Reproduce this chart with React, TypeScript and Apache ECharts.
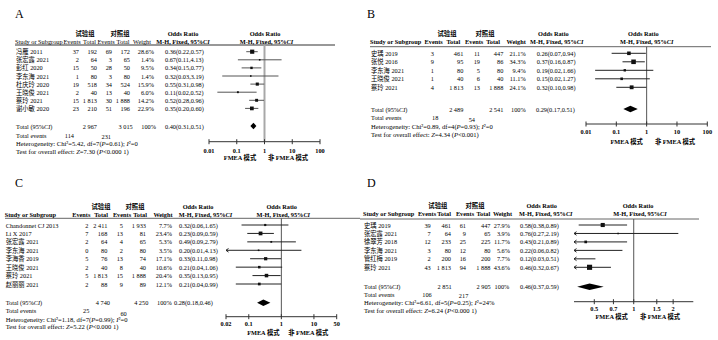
import React, { useEffect, useRef } from "react";
import * as echarts from "echarts";

// ---------------- Panel A data ----------------
const studiesA = ["冯雁 2011", "张宏露 2021", "彭红 2020", "李东海 2021", "杜庆玲 2020", "王晓俊 2021", "蔡玲 2021", "谢小敏 2020"];
const expEventsA = [37, 2, 15, 1, 19, 2, 15, 23];
const expTotalA = [192, 64, 50, 80, 518, 40, 1813, 210];
const ctlEventsA = [69, 3, 28, 3, 34, 13, 30, 51];
const ctlTotalA = [172, 65, 50, 80, 524, 40, 1888, 196];
const weightA = [28.6, 1.4, 9.5, 1.4, 15.9, 6.0, 14.2, 22.9];
const orA = [0.36, 0.67, 0.34, 0.32, 0.55, 0.11, 0.52, 0.35];
const lowA = [0.22, 0.11, 0.15, 0.03, 0.31, 0.02, 0.28, 0.20];
const highA = [0.57, 4.13, 0.77, 3.19, 0.98, 0.52, 0.96, 0.60];
const totalNA = [2967, 3015];
const totalEventsA = [114, 231];
const totalOrA = [0.40, 0.31, 0.51];
const hetA = ["5.42", "7", "0.61", "0"];
const testA = ["7.30", "<0.000 1"];
const ticksA = [0.01, 0.1, 1, 10, 100];
const tickLabelsA = ["0.01", "0.1", "1", "10", "100"];

// ---------------- Panel B data ----------------
const studiesB = ["史瑀 2019", "张悦 2016", "李东海 2021", "王晓俊 2021", "蔡玲 2021"];
const expEventsB = [3, 9, 1, 1, 4];
const expTotalB = [461, 95, 80, 40, 1813];
const ctlEventsB = [11, 19, 5, 6, 13];
const ctlTotalB = [447, 86, 80, 40, 1888];
const weightB = [21.1, 34.3, 9.4, 11.1, 24.1];
const orB = [0.26, 0.37, 0.19, 0.15, 0.32];
const lowB = [0.07, 0.16, 0.02, 0.02, 0.10];
const highB = [0.94, 0.87, 1.66, 1.27, 0.98];
const totalNB = [2489, 2541];
const totalEventsB = [18, 54];
const totalOrB = [0.29, 0.17, 0.51];
const hetB = ["0.89", "4", "0.93", "0"];
const testB = ["4.34", "<0.001"];
const ticksB = [0.01, 0.1, 1, 10, 100];
const tickLabelsB = ["0.01", "0.1", "1", "10", "100"];

// ---------------- Panel C data ----------------
const studiesC = ["Chandonnet CJ 2013", "Li X 2017", "张宏露 2021", "李东海 2021", "李海香 2019", "王晓俊 2021", "蔡玲 2021", "赵丽丽 2021"];
const expEventsC = [2, 7, 2, 0, 5, 2, 5, 2];
const expTotalC = [2411, 168, 64, 80, 76, 40, 1813, 88];
const ctlEventsC = [5, 13, 4, 2, 13, 8, 15, 9];
const ctlTotalC = [1933, 81, 65, 80, 74, 40, 1888, 89];
const weightC = [7.7, 23.4, 5.3, 3.5, 17.1, 10.6, 20.4, 12.1];
const orC = [0.32, 0.23, 0.49, 0.20, 0.33, 0.21, 0.35, 0.21];
const lowC = [0.06, 0.09, 0.09, 0.01, 0.11, 0.04, 0.13, 0.04];
const highC = [1.65, 0.59, 2.79, 4.13, 0.98, 1.06, 0.95, 0.99];
const totalNC = [4740, 4250];
const totalEventsC = [25, 60];
const totalOrC = [0.28, 0.18, 0.46];
const hetC = ["1.18", "7", "0.99", "0"];
const testC = ["5.22", "<0.000 1"];
const ticksC = [0.02, 0.1, 1, 10, 50];
const tickLabelsC = ["0.02", "0.1", "1", "10", "50"];

// ---------------- Panel D data ----------------
const studiesD = ["史瑀 2019", "张宏露 2021", "徐翠芳 2018", "李东海 2021", "管红梅 2019", "蔡玲 2021"];
const expEventsD = [39, 7, 12, 3, 2, 43];
const expTotalD = [461, 64, 233, 80, 200, 1813];
const ctlEventsD = [61, 9, 25, 12, 16, 94];
const ctlTotalD = [447, 65, 225, 80, 200, 1888];
const weightD = [27.9, 3.9, 11.7, 5.6, 7.7, 43.6];
const orD = [0.58, 0.76, 0.43, 0.22, 0.12, 0.46];
const lowD = [0.38, 0.27, 0.21, 0.06, 0.03, 0.32];
const highD = [0.89, 2.19, 0.89, 0.82, 0.51, 0.67];
const totalND = [2851, 2905];
const totalEventsD = [106, 217];
const totalOrD = [0.46, 0.37, 0.59];
const hetD = ["6.61", "5", "0.25", "24%"];
const testD = ["6.24", "<0.000 1"];
const ticksD = [0.5, 0.7, 1, 1.5, 2];
const tickLabelsD = ["0.5", "0.7", "1", "1.5", "2"];

const panelLetters = ["A", "B", "C", "D"];
const expGroupLabel = "试验组";
const ctlGroupLabel = "对照组";
const leftFavours = "FMEA 模式";
const rightFavours = "非 FMEA 模式";

// ---------------- assembled panels ----------------
const panels = [
  { studies: studiesA, expEvents: expEventsA, expTotal: expTotalA, ctlEvents: ctlEventsA, ctlTotal: ctlTotalA, weight: weightA, or: orA, low: lowA, high: highA, totalN: totalNA, totalEvents: totalEventsA, totalOr: totalOrA, het: hetA, test: testA, ticks: ticksA, tickLabels: tickLabelsA },
  { studies: studiesB, expEvents: expEventsB, expTotal: expTotalB, ctlEvents: ctlEventsB, ctlTotal: ctlTotalB, weight: weightB, or: orB, low: lowB, high: highB, totalN: totalNB, totalEvents: totalEventsB, totalOr: totalOrB, het: hetB, test: testB, ticks: ticksB, tickLabels: tickLabelsB },
  { studies: studiesC, expEvents: expEventsC, expTotal: expTotalC, ctlEvents: ctlEventsC, ctlTotal: ctlTotalC, weight: weightC, or: orC, low: lowC, high: highC, totalN: totalNC, totalEvents: totalEventsC, totalOr: totalOrC, het: hetC, test: testC, ticks: ticksC, tickLabels: tickLabelsC },
  { studies: studiesD, expEvents: expEventsD, expTotal: expTotalD, ctlEvents: ctlEventsD, ctlTotal: ctlTotalD, weight: weightD, or: orD, low: lowD, high: highD, totalN: totalND, totalEvents: totalEventsD, totalOr: totalOrD, het: hetD, test: testD, ticks: ticksD, tickLabels: tickLabelsD },
];

// ---------------- layout (pixels) ----------------
const layouts = [
  {
    letterX: 15, letterY: 14, xMin: 0.01, xMax: 100,
    hdr1Y: 33.3, hdr2Y: 41.7, lineY: 45, lineX0: 15, lineX1: 335,
    row0Y: 51.7, rowStep: 8.1, totalY: 126, eventsY: 135, eventsY2: 136.5, hetY: 143.3, testY: 151.7,
    axisY: 141.7, axisX0: 209, axisX1: 320, tickLabelY: 150, footerY: 157.7,
    nameX: 16, cols: [79, 97, 112, 130, 154], orX: 165,
    hdrCols: [72, 89.5, 106, 123, 142], hdrBold: false, expHdr: 85, ctlHdr: 120, orHdr: 183, mhHdr: 183, plotHdr: 265, plotMh: 266.5,
    totCols: [97, 132.7, 156], totOrX: 165, evCols: [74, 111],
    footL: 240, footR: 288, vColor: "#a8a8a8", vWidth: 2, ciColor: "#555", ruleColor: "#333", ruleWidth: 1.2,
  },
  {
    letterX: 367, letterY: 14, xMin: 0.01, xMax: 100,
    hdr1Y: 33, hdr2Y: 41.7, lineY: 46.7, lineX0: 370, lineX1: 711,
    row0Y: 53.3, rowStep: 8.5, totalY: 109, eventsY: 117.3, eventsY2: 119, hetY: 126, testY: 134.3,
    axisY: 124, axisX0: 586, axisX1: 707.3, tickLabelY: 131.7, footerY: 141,
    nameX: 371, cols: [434, 463.3, 480, 503.3, 525.7], orX: 536.7,
    hdrCols: [433.7, 453.3, 474.2, 493, 516.2], hdrBold: true, expHdr: 447, ctlHdr: 485, orHdr: 553.3, mhHdr: 556.7, plotHdr: 643.3, plotMh: 646.7,
    totCols: [463.3, 503.3, 525.7], totOrX: 536, evCols: [438.3, 475],
    footL: 626.7, footR: 675, vColor: "#555", vWidth: 1, ciColor: "#222", ruleColor: "#666", ruleWidth: 1,
  },
  {
    letterX: 15, letterY: 182.5, xMin: 0.02, xMax: 50,
    hdr1Y: 206, hdr2Y: 214.3, lineY: 218.3, lineX0: 5, lineX1: 360,
    row0Y: 225, rowStep: 8.43, totalY: 302.7, eventsY: 310.7, eventsY2: 313.5, hetY: 319, testY: 326.7,
    axisY: 316.7, axisX0: 226, axisX1: 336.7, tickLabelY: 323.3, footerY: 332.7,
    nameX: 5.7, cols: [88.5, 107.3, 123, 146, 172], orX: 179,
    hdrCols: [81.3, 101, 122, 140, 163], hdrBold: true, expHdr: 101, ctlHdr: 135, orHdr: 198, mhHdr: 205.5, plotHdr: 281.7, plotMh: 283.3,
    totCols: [110, 148.3, 171.7], totOrX: 174, evCols: [89.3, 126.7],
    footL: 263.3, footR: 308.3, vColor: "#555", vWidth: 1, ciColor: "#222", ruleColor: "#666", ruleWidth: 1,
  },
  {
    letterX: 367, letterY: 182.5, xMin: 0.35, xMax: 2.85,
    hdr1Y: 205, hdr2Y: 213.3, lineY: 219, lineX0: 360, lineX1: 699,
    row0Y: 225, rowStep: 8.46, totalY: 286.7, eventsY: 294, eventsY2: 295, hetY: 302.7, testY: 310.7,
    axisY: 301.7, axisX0: 574, axisX1: 693.3, tickLabelY: 308.3, footerY: 316.7,
    nameX: 364, cols: [430.7, 451, 466, 490.5, 510], orX: 520,
    hdrCols: [427, 444, 465, 483.3, 502.5], hdrBold: true, expHdr: 437.8, ctlHdr: 475, orHdr: 541.7, mhHdr: 545.8, plotHdr: 638, plotMh: 640,
    totCols: [451.7, 490.7, 509.3], totOrX: 520, evCols: [431.7, 468.3],
    footL: 611.7, footR: 660, vColor: "#555", vWidth: 1, ciColor: "#222", ruleColor: "#666", ruleWidth: 1,
  },
];

const FONT = "'Liberation Serif','Times New Roman','Noto Sans CJK SC',serif";
const INK = "#000";
const FS = 6.3;

function T(text: string, x: number, y: number, align = "left", o: any = {}) {
  const size = o.size ?? FS;
  const weight = o.bold ? "bold" : "normal";
  const fill = o.fill ?? INK;
  const style: any = {
    text, fill, fontSize: size, fontFamily: FONT, fontWeight: weight,
    align, verticalAlign: "middle", textAlign: align, textVerticalAlign: "middle",
    rich: { i: { fontStyle: "italic", fontSize: size, fontFamily: FONT, fontWeight: weight, fill } },
  };
  return { type: "text", x, y, silent: true, style };
}
function Ln(x1: number, y1: number, x2: number, y2: number, stroke: string, lineWidth = 1) {
  return { type: "line", silent: true, shape: { x1, y1, x2, y2 }, style: { stroke, lineWidth } };
}
const fmtN = (n: number) => (n >= 1000 ? `${Math.floor(n / 1000)} ${String(n % 1000).padStart(3, "0")}` : String(n));
const fmtOR = (o: number, l: number, h: number) => `${o.toFixed(2)}(${l.toFixed(2)},${h.toFixed(2)})`;

function buildPanel(k: number, P: any, L: any) {
  const rowOf = (px: number) => (px - L.row0Y) / L.rowStep;
  const grid = { left: L.axisX0, top: L.lineY, width: L.axisX1 - L.axisX0, height: L.axisY - L.lineY };
  const xAxis = { gridIndex: k, type: "log", logBase: 10, min: L.xMin, max: L.xMax, show: false };
  const yAxis = { gridIndex: k, type: "value", min: rowOf(L.lineY), max: rowOf(L.axisY), inverse: true, show: false };
  const clampX = (v: number) => Math.min(L.xMax, Math.max(L.xMin, v));
  const base = { type: "custom", xAxisIndex: k, yAxisIndex: k, silent: true, encode: { x: 0, y: 1 } };

  // axis, reference line, header rule, diamond
  const frame = {
    ...base,
    z: 1,
    data: [[1, 0]],
    renderItem: (_p: any, api: any) => {
      const yTop = api.coord([1, rowOf(L.lineY)])[1];
      const yAx = api.coord([1, rowOf(L.axisY)])[1];
      const x1 = api.coord([1, 0])[0];
      const xa0 = api.coord([L.xMin, 0])[0];
      const xa1 = api.coord([L.xMax, 0])[0];
      const ch: any[] = [];
      ch.push(Ln(L.lineX0, yTop, L.lineX1, yTop, L.ruleColor, L.ruleWidth));
      ch.push(Ln(x1, yTop, x1, yAx, L.vColor, L.vWidth));
      ch.push(Ln(xa0, yAx, xa1, yAx, "#333", 1));
      P.ticks.forEach((t: number, j: number) => {
        const x = api.coord([t, 0])[0];
        ch.push(Ln(x, yAx - 2.5, x, yAx + 2.5, "#333", 1));
        ch.push(T(P.tickLabels[j], x, api.coord([1, rowOf(L.tickLabelY)])[1], "center", { bold: true }));
      });
      const yc = api.coord([1, rowOf(L.totalY)])[1];
      const xl = api.coord([clampX(P.totalOr[1]), 0])[0];
      const xc = api.coord([clampX(P.totalOr[0]), 0])[0];
      const xh = api.coord([clampX(P.totalOr[2]), 0])[0];
      ch.push({ type: "polygon", silent: true, shape: { points: [[xl, yc], [xc, yc - 3.3], [xh, yc], [xc, yc + 3.3]] }, style: { fill: "#000" } });
      const yf = api.coord([1, rowOf(L.footerY)])[1];
      ch.push(T(leftFavours, L.footL, yf, "center", { bold: true }));
      ch.push(T(rightFavours, L.footR, yf, "center", { bold: true }));
      return { type: "group", children: ch };
    },
  };

  // study CI lines + squares
  const marks = {
    ...base,
    z: 2,
    data: P.studies.map((_s: string, i: number) => [1, i]),
    renderItem: (p: any, api: any) => {
      const i = p.dataIndex;
      const y = api.coord([1, i])[1];
      const lo = P.low[i], hi = P.high[i], o = P.or[i];
      const xl = api.coord([clampX(lo), i])[0];
      const xh = api.coord([clampX(hi), i])[0];
      const ch: any[] = [Ln(xl, y, xh, y, L.ciColor, 1)];
      if (lo < L.xMin) ch.push({ type: "polyline", silent: true, shape: { points: [[xl + 2.5, y - 1.8], [xl, y], [xl + 2.5, y + 1.8]] }, style: { stroke: L.ciColor, lineWidth: 1, fill: "none" } });
      if (hi > L.xMax) ch.push({ type: "polyline", silent: true, shape: { points: [[xh - 2.5, y - 1.8], [xh, y], [xh - 2.5, y + 1.8]] }, style: { stroke: L.ciColor, lineWidth: 1, fill: "none" } });
      if (o >= L.xMin && o <= L.xMax) {
        const xp = api.coord([o, i])[0];
        const s = Math.max(1.6, 0.78 * Math.sqrt(P.weight[i]));
        ch.push({ type: "rect", silent: true, shape: { x: xp - s / 2, y: y - s / 2, width: s, height: s }, style: { fill: "#111" } });
      }
      return { type: "group", children: ch };
    },
  };

  // table rows
  const rows = {
    ...base,
    z: 3,
    data: P.studies.map((_s: string, i: number) => [1, i]),
    renderItem: (p: any, api: any) => {
      const i = p.dataIndex;
      const y = api.coord([1, i])[1];
      const c = L.cols;
      return {
        type: "group",
        children: [
          T(P.studies[i], L.nameX, y, "left"),
          T(String(P.expEvents[i]), c[0], y, "right"),
          T(fmtN(P.expTotal[i]), c[1], y, "right"),
          T(String(P.ctlEvents[i]), c[2], y, "right"),
          T(fmtN(P.ctlTotal[i]), c[3], y, "right"),
          T(`${P.weight[i].toFixed(1)}%`, c[4], y, "right"),
          T(fmtOR(P.or[i], P.low[i], P.high[i]), L.orX, y, "left"),
        ],
      };
    },
  };

  // headers, totals, statistics
  const texts = {
    ...base,
    z: 3,
    data: [[1, 0]],
    renderItem: (_p: any, api: any) => {
      const Y = (px: number) => api.coord([1, rowOf(px)])[1];
      const h1 = Y(L.hdr1Y), h2 = Y(L.hdr2Y);
      const ch: any[] = [];
      ch.push(T(panelLetters[k], L.letterX, Y(L.letterY), "left", { size: 12 }));
      ch.push(T(expGroupLabel, L.expHdr, h1, "center", { bold: true }));
      ch.push(T(ctlGroupLabel, L.ctlHdr, h1, "center", { bold: true }));
      ch.push(T("Odds Ratio", L.orHdr, h1, "center", { bold: true }));
      ch.push(T("Odds Ratio", L.plotHdr, h1, "center", { bold: true }));
      ch.push(T("Study or Subgroup", L.nameX - 1, h2, "left", { bold: L.hdrBold }));
      ["Events", "Total", "Events", "Total", "Weight"].forEach((w, j) => ch.push(T(w, L.hdrCols[j], h2, "center", { bold: L.hdrBold })));
      ch.push(T("M-H, Fixed, 95%{i|CI}", L.mhHdr, h2, "center", { bold: true }));
      ch.push(T("M-H, Fixed, 95%{i|CI}", L.plotMh, h2, "center", { bold: true }));
      const ty = Y(L.totalY);
      ch.push(T("Total (95%{i|CI})", L.nameX, ty, "left"));
      ch.push(T(fmtN(P.totalN[0]), L.totCols[0], ty, "right"));
      ch.push(T(fmtN(P.totalN[1]), L.totCols[1], ty, "right"));
      ch.push(T("100%", L.totCols[2], ty, "right"));
      ch.push(T(fmtOR(P.totalOr[0], P.totalOr[1], P.totalOr[2]), L.totOrX, ty, "left"));
      ch.push(T("Total events", L.nameX, Y(L.eventsY), "left"));
      ch.push(T(String(P.totalEvents[0]), L.evCols[0], Y(L.eventsY), "right"));
      ch.push(T(String(P.totalEvents[1]), L.evCols[1], Y(L.eventsY2), "right"));
      const [chi, df, pv, i2] = P.het;
      ch.push(T(`Heterogeneity: Chi²=${chi}, df=${df}({i|P}=${pv}); {i|I}²=${i2}`, L.nameX, Y(L.hetY), "left", { size: 6.6 }));
      const [z, pz] = P.test;
      ch.push(T(`Test for overall effect: {i|Z}=${z} ({i|P}${pz})`, L.nameX, Y(L.testY), "left", { size: 6.6 }));
      return { type: "group", children: ch };
    },
  };

  return { grid, xAxis, yAxis, series: [frame, marks, rows, texts] };
}

export default function App() {
  const ref = useRef<HTMLDivElement>(null);
  useEffect(() => {
    if (!ref.current) return;
    const chart = echarts.init(ref.current, undefined, { renderer: "svg" });
    const built = panels.map((P, k) => buildPanel(k, P, layouts[k]));
    chart.setOption({
      animation: false,
      backgroundColor: "#ffffff",
      grid: built.map((b) => b.grid),
      xAxis: built.map((b) => b.xAxis),
      yAxis: built.map((b) => b.yAxis),
      series: built.flatMap((b) => b.series),
    });
    return () => chart.dispose();
  }, []);
  return (
    <div
      ref={ref}
      style={{ position: "absolute", left: 0, top: 0, width: 718, height: 340, background: "#fff" }}
    />
  );
}
